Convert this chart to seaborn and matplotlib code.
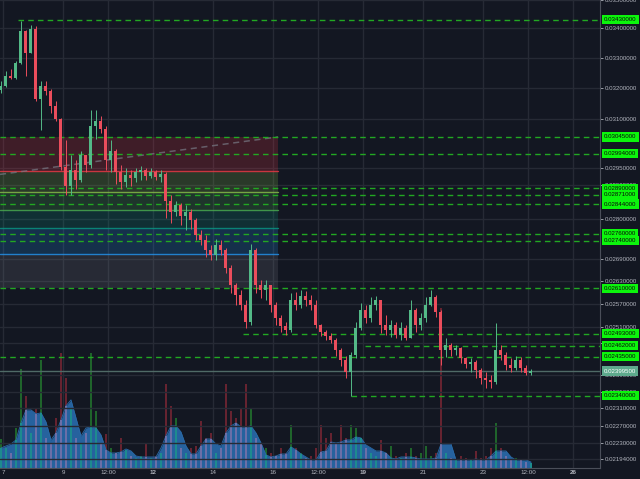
import numpy as np
import matplotlib
matplotlib.use("Agg")
import matplotlib.pyplot as plt
import matplotlib.transforms as mtransforms
from matplotlib.ticker import NullLocator
import seaborn as sns

# ---------------- data (4h candles) ----------------
start_day = 6.933
candle_hours = 4
first_open = 0.03195
closes = [0.03208, 0.03241, 0.03234, 0.03284, 0.03392, 0.03317, 0.03399, 0.03166, 0.03208, 0.03192,
          0.03143, 0.03102, 0.02952, 0.02898, 0.02943, 0.02913, 0.02988, 0.02958, 0.03080, 0.03096,
          0.03071, 0.02973, 0.03003, 0.02937, 0.02907, 0.02928, 0.02919, 0.02937, 0.02943, 0.02925,
          0.02937, 0.02922, 0.02931, 0.02854, 0.02820, 0.02840, 0.02811, 0.02820, 0.02797, 0.02755,
          0.02741, 0.02713, 0.02699, 0.02727, 0.02713, 0.02664, 0.02618, 0.02592, 0.02566, 0.02522,
          0.02713, 0.02618, 0.02605, 0.02618, 0.02566, 0.02532, 0.02512, 0.02502, 0.02579, 0.02566,
          0.02589, 0.02579, 0.02566, 0.02514, 0.02496, 0.02486, 0.02476, 0.02451, 0.02426, 0.02397,
          0.02439, 0.02507, 0.02553, 0.02532, 0.02566, 0.02579, 0.02514, 0.02502, 0.02514, 0.02489,
          0.02507, 0.02481, 0.02553, 0.02514, 0.02532, 0.02566, 0.02587, 0.02548, 0.02451, 0.02464,
          0.02451, 0.02456, 0.02431, 0.02417, 0.02421, 0.02402, 0.02382, 0.02378, 0.02373, 0.02451,
          0.02439, 0.02414, 0.02407, 0.02426, 0.02407, 0.02395, 0.023995]
highs = [0.03224, 0.03257, 0.03264, 0.03290, 0.03427, 0.03395, 0.03413, 0.03409, 0.03224, 0.03224,
         0.03198, 0.03159, 0.03105, 0.03034, 0.02988, 0.02973, 0.03003, 0.02988, 0.03128, 0.03128,
         0.03112, 0.03080, 0.03034, 0.03009, 0.02958, 0.02949, 0.02943, 0.02949, 0.02955, 0.02949,
         0.02949, 0.02943, 0.02943, 0.02937, 0.02869, 0.02854, 0.02846, 0.02840, 0.02831, 0.02803,
         0.02769, 0.02755, 0.02727, 0.02746, 0.02741, 0.02721, 0.02672, 0.02624, 0.02605, 0.02579,
         0.02732, 0.02719, 0.02632, 0.02632, 0.02618, 0.02574, 0.02540, 0.02522, 0.02597, 0.02600,
         0.02605, 0.02603, 0.02592, 0.02579, 0.02517, 0.02502, 0.02494, 0.02481, 0.02456, 0.02436,
         0.02446, 0.02522, 0.02571, 0.02566, 0.02587, 0.02589, 0.02579, 0.02540, 0.02527, 0.02522,
         0.02522, 0.02514, 0.02579, 0.02558, 0.02545, 0.02587, 0.02605, 0.02592, 0.02553, 0.02481,
         0.02469, 0.02464, 0.02459, 0.02434, 0.02431, 0.02426, 0.02407, 0.02397, 0.02390, 0.02519,
         0.02464, 0.02446, 0.02431, 0.02436, 0.02434, 0.02414, 0.02404]
lows = [0.03185, 0.03205, 0.03231, 0.03231, 0.03280, 0.03241, 0.03317, 0.03159, 0.03065, 0.03176,
        0.03121, 0.03096, 0.02943, 0.02869, 0.02869, 0.02889, 0.02907, 0.02937, 0.02949, 0.03040,
        0.03058, 0.02943, 0.02937, 0.02904, 0.02889, 0.02895, 0.02898, 0.02907, 0.02913, 0.02913,
        0.02919, 0.02913, 0.02907, 0.02803, 0.02791, 0.02811, 0.02783, 0.02769, 0.02774, 0.02741,
        0.02727, 0.02694, 0.02686, 0.02686, 0.02699, 0.02651, 0.02597, 0.02566, 0.02553, 0.02507,
        0.02514, 0.02597, 0.02584, 0.02579, 0.02548, 0.02514, 0.02496, 0.02489, 0.02496, 0.02553,
        0.02558, 0.02563, 0.02553, 0.02507, 0.02486, 0.02476, 0.02469, 0.02436, 0.02412, 0.02382,
        0.02339, 0.02431, 0.02502, 0.02519, 0.02522, 0.02553, 0.02494, 0.02489, 0.02484, 0.02481,
        0.02476, 0.02476, 0.02484, 0.02496, 0.02502, 0.02522, 0.02563, 0.02535, 0.02414, 0.02434,
        0.02436, 0.02439, 0.02419, 0.02407, 0.02397, 0.02382, 0.02368, 0.02358, 0.02358, 0.02368,
        0.02426, 0.02402, 0.02397, 0.02402, 0.02397, 0.02390, 0.02390]
volumes = [29, 20, 15, 40, 99, 72, 35, 60, 108, 30, 25, 50, 115, 90, 60, 30, 25, 35, 115, 57,
           25, 34, 20, 15, 30, 18, 12, 10, 12, 24, 10, 12, 15, 84, 62, 50, 20, 15, 20, 22,
           47, 30, 35, 15, 20, 84, 57, 50, 59, 84, 60, 30, 25, 20, 15, 12, 20, 15, 43, 20,
           15, 10, 12, 20, 43, 30, 35, 25, 43, 30, 43, 40, 30, 20, 15, 12, 28, 15, 22, 12,
           10, 15, 20, 12, 15, 22, 12, 15, 160, 15, 10, 8, 12, 10, 8, 17, 10, 12, 20, 45,
           20, 12, 8, 10, 8, 6, 5]
volume_ma = [20, 22, 24, 28, 45, 58, 58, 54, 55, 46, 28, 35, 48, 62, 68, 50, 32, 40, 41, 40,
             33, 18, 15, 15, 16, 19, 17, 12, 11, 11, 11, 11, 20, 32, 42, 42, 36, 22, 14, 14,
             22, 29, 29, 24, 22, 35, 42, 45, 41, 41, 42, 35, 25, 13, 11, 12, 14, 14, 21, 18,
             14, 11, 8, 8, 16, 17, 26, 25, 26, 28, 28, 31, 30, 23, 20, 17, 17, 15, 10, 9,
             11, 11, 11, 10, 9, 9, 9, 10, 24, 24, 24, 8, 8, 8, 8, 9, 8, 8, 12, 17,
             17, 17, 11, 8, 8, 8, 6]

price_ticks = [0.035, 0.034, 0.033, 0.032, 0.031, 0.0295, 0.029, 0.028, 0.0269, 0.0263, 0.0257,
               0.0251, 0.0247, 0.0239, 0.0235, 0.0231, 0.0227, 0.0223, 0.02194]
level_prices = [0.0343, 0.03045, 0.02994, 0.0289, 0.02871, 0.02844, 0.0276, 0.0274, 0.0261,
                0.02493, 0.02462, 0.02435, 0.0234]
level_start_days = [7.5, 6.9, 6.9, 6.9, 6.9, 6.9, 6.9, 6.9, 6.9, 15.0, 19.07, 6.9, 18.6]
last_price = 0.023995

fib_top = 0.03045
fib_bottom = 0.0261
fib_levels = [0, 0.236, 0.382, 0.5, 0.618, 0.786, 1]
fib_colors = ["#787b86", "#f23645", "#8bc34a", "#4caf50", "#089981", "#2196f3", "#787b86"]
fib_end_day = 16.17
trend_days = [6.9, 16.17]
trend_prices = [0.02931, 0.03045]

x_tick_days = [7, 9, 10.5, 12, 14, 16, 17.5, 19, 21, 23, 24.5, 26]
x_tick_labels = ["7", "9", "12:00", "12", "14", "16", "12:00", "19", "21", "23", "12:00", "26"]
bold_labels = ["12", "19", "26"]

# ---------------- style ----------------
bg = "#131722"
grid_c = "#262a35"
text_c = "#b2b5be"
up_c = "#53b987"
down_c = "#eb4d5c"

sns.set_theme(style="dark", rc={"axes.facecolor": bg, "figure.facecolor": bg,
                                "axes.edgecolor": "#3a3e49", "text.color": text_c,
                                "xtick.color": text_c, "ytick.color": text_c})
plt.rcParams["font.family"] = ["Liberation Sans", "DejaVu Sans"]

fig = plt.figure(figsize=(6.4, 4.79), dpi=100)
ax_vol = fig.add_axes([0, 11 / 479, 600 / 640, 468 / 479])
ax = ax_vol.twinx()
ax_vol.set_zorder(1)
ax.set_zorder(2)
ax.patch.set_visible(False)
ax_vol.set_facecolor(bg)

n = len(closes)
days = start_day + np.arange(n) * candle_hours / 24.0
opens = np.array([first_open] + closes[:-1])
closes_a = np.array(closes)
highs_a = np.maximum(np.array(highs), np.maximum(opens, closes_a))
lows_a = np.minimum(np.array(lows), np.minimum(opens, closes_a))
up = closes_a >= opens

xmin, xmax = 6.9, 26.9

# ---------------- volume ----------------
vol = np.array(volumes, dtype=float)
vma = np.array(volume_ma, dtype=float)
bw = 0.085
ax_vol.bar(days, vol, width=bw, color=np.where(up, "#1f642b", "#662330"), zorder=1, linewidth=0)
ax_vol.fill_between(days, 0, vma, color="#26629e", zorder=2, linewidth=0)
sns.lineplot(x=days, y=vma, ax=ax_vol, color="#2a6aa8", linewidth=0.6, zorder=2.5)
ax_vol.bar(days, np.minimum(vol, vma), width=bw, color=np.where(up, "#1d8b8e", "#6b6fa8"),
           zorder=3, linewidth=0)
ax_vol.set_ylim(0, 467)
ax_vol.set_xlim(xmin, xmax)
ax_vol.set_yticks([])
ax_vol.grid(False)
for s in ax_vol.spines.values():
    s.set_visible(False)

for d in x_tick_days:
    ax_vol.axvline(d, color=grid_c, lw=1, zorder=0)

# x axis labels (drawn by the bottom axes)
ax_vol.set_xticks(x_tick_days)
ax_vol.set_xticklabels(x_tick_labels)
ax_vol.tick_params(axis="x", labelsize=4.5, length=0, pad=1.2, colors=text_c)
for lab in ax_vol.get_xticklabels():
    if lab.get_text() in bold_labels:
        lab.set_fontweight("bold")

# ---------------- price axis ----------------
ax.set_yscale("log")
ax.set_ylim(0.021743, 0.03497)
ax.set_xlim(xmin, xmax)
ax.yaxis.set_minor_locator(NullLocator())
ax.set_yticks(price_ticks)
ax.set_yticklabels(["%.8f" % p for p in price_ticks])
ax.yaxis.tick_right()
ax.tick_params(axis="y", which="major", labelsize=4.4, length=2, width=0.6, pad=1.5,
               colors=text_c)
for p in price_ticks:
    ax.axhline(p, color=grid_c, lw=1, zorder=0)
ax.grid(False)

for side in ["top", "left"]:
    ax.spines[side].set_visible(False)
ax.spines["right"].set_color("#4a4e59")
ax.spines["bottom"].set_color("#4a4e59")
ax.spines["right"].set_linewidth(0.8)
ax.spines["bottom"].set_linewidth(0.8)

# ---------------- fib retracement ----------------
fib_prices = [fib_top - l * (fib_top - fib_bottom) for l in fib_levels]
for k in range(len(fib_levels) - 1):
    ax.fill_between([xmin, fib_end_day], fib_prices[k + 1], fib_prices[k],
                    color=fib_colors[k + 1], alpha=0.2, linewidth=0, zorder=1)
for k in range(1, len(fib_levels) - 1):
    ax.plot([xmin, fib_end_day], [fib_prices[k]] * 2, color=fib_colors[k], lw=1, alpha=0.8, zorder=1.5)
ax.plot(trend_days, trend_prices, color="#787b86", lw=1.1, ls=(0, (4, 3)), alpha=0.7, zorder=1.6)

# ---------------- level lines ----------------
trans = mtransforms.blended_transform_factory(ax.transAxes, ax.transData)
for p, sd in zip(level_prices, level_start_days):
    ax.plot([sd, xmax], [p, p], color="#22a822", lw=1, ls=(0, (4, 3)), zorder=2)
    ax.text(1.0 + 4 / 600, p, "%.8f" % p, transform=trans, ha="left", va="center",
            fontsize=4.4, color="#0a0a0a", clip_on=False, zorder=10,
            bbox=dict(boxstyle="square,pad=0.35", fc="#0cf50c", ec="none"))
ax.axhline(last_price, color="#4f6a66", lw=1, zorder=2)
ax.text(1.0 + 4 / 600, last_price, "%.8f" % last_price, transform=trans, ha="left",
        va="center", fontsize=4.4, color="white", clip_on=False, zorder=10,
        bbox=dict(boxstyle="square,pad=0.35", fc="#5da98c", ec="none"))

# ---------------- candles ----------------
colors = np.where(up, up_c, down_c)
ax.vlines(days, lows_a, highs_a, colors=colors, lw=0.7, zorder=4)
body_low = np.minimum(opens, closes_a)
body_h = np.maximum(np.abs(closes_a - opens), 0.00002)
ax.bar(days, body_h, bottom=body_low, width=0.1, color=colors, linewidth=0, zorder=5)

fig.savefig("out.png", dpi=100, facecolor=bg)
